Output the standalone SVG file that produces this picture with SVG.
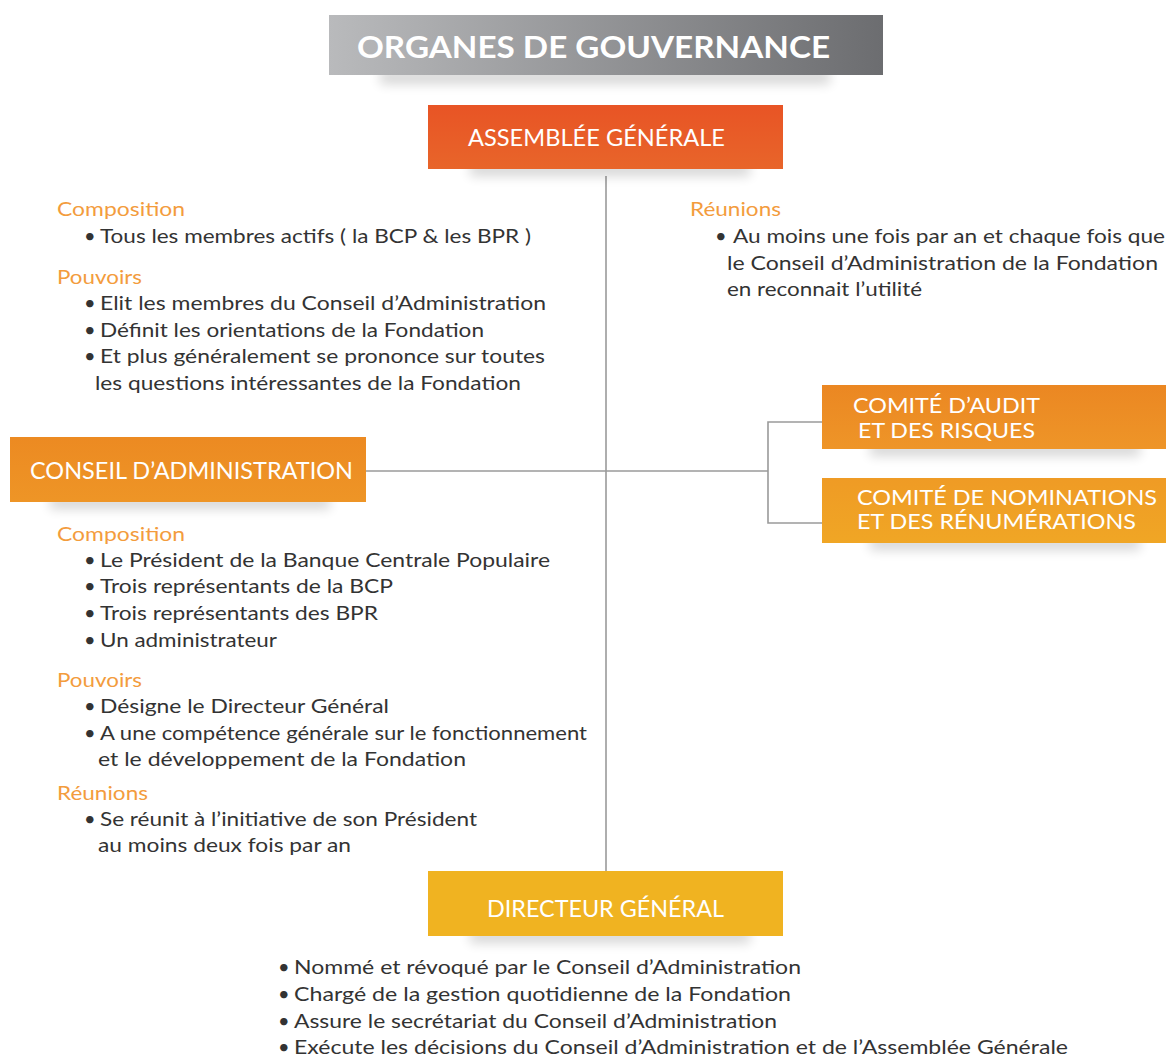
<svg xmlns="http://www.w3.org/2000/svg" width="1166" height="1057" viewBox="0 0 1166 1057">
<defs>
<linearGradient id="gTitle" x1="0" y1="0" x2="1" y2="0">
<stop offset="0" stop-color="#b9babc"/>
<stop offset="1" stop-color="#6c6d70"/>
</linearGradient>
<linearGradient id="gAG" x1="0" y1="0" x2="0" y2="1">
<stop offset="0" stop-color="#e85425"/>
<stop offset="1" stop-color="#e8652a"/>
</linearGradient>
<linearGradient id="gCA" x1="0" y1="0" x2="0" y2="1">
<stop offset="0" stop-color="#ec8a22"/>
<stop offset="1" stop-color="#ee9526"/>
</linearGradient>
<linearGradient id="gAudit" x1="0" y1="0" x2="0" y2="1">
<stop offset="0" stop-color="#eb8722"/>
<stop offset="1" stop-color="#ee9528"/>
</linearGradient>
<linearGradient id="gNom" x1="0" y1="0" x2="0" y2="1">
<stop offset="0" stop-color="#ef9b25"/>
<stop offset="1" stop-color="#f0a625"/>
</linearGradient>
<filter id="blur" x="-20%" y="-100%" width="140%" height="300%">
<feGaussianBlur stdDeviation="6"/>
</filter>
</defs>
<style>
.box-t{font-family:Lato,"Noto Sans",sans-serif;fill:#ffffff;font-size:23px;}
.box-t2{font-family:Lato,"Noto Sans",sans-serif;fill:#ffffff;font-size:21px;}
.title-t{font-family:Lato,"Noto Sans",sans-serif;fill:#ffffff;font-size:31px;font-weight:bold;}
.h{font-family:Lato,"Noto Sans",sans-serif;fill:#f39c3d;font-size:20px;}
.b{font-family:Lato,"Noto Sans",sans-serif;fill:#333333;font-size:20px;}
.sh{fill:#000000;opacity:0.16;filter:url(#blur);}
.ln{stroke:#9a9a9a;stroke-width:1.6;fill:none;}
</style>

<g id="connectors">
<line class="ln" x1="606" y1="176" x2="606" y2="871"/>
<line class="ln" x1="366" y1="471" x2="768" y2="471"/>
<polyline class="ln" points="822,422 768,422 768,523 822,523"/>
</g>

<g id="title">
<rect class="sh" x="380" y="70" width="450" height="14"/>
<rect x="329" y="15" width="554" height="60" fill="url(#gTitle)"/>
<text class="title-t" x="357" y="58" textLength="473" lengthAdjust="spacingAndGlyphs">ORGANES DE GOUVERNANCE</text>
</g>

<g id="assemblee">
<rect class="sh" x="470" y="162" width="280" height="14"/>
<rect x="428" y="105" width="355" height="64" fill="url(#gAG)"/>
<text class="box-t" x="468" y="146" textLength="257" lengthAdjust="spacingAndGlyphs">ASSEMBLÉE GÉNÉRALE</text>
</g>

<g id="assemblee-texte">
<text class="h" x="57" y="216" textLength="128" lengthAdjust="spacingAndGlyphs">Composition</text>
<text class="b" x="84" y="243">•</text>
<text class="b" x="100" y="243" textLength="431" lengthAdjust="spacingAndGlyphs">Tous les membres actifs ( la BCP &amp; les BPR )</text>
<text class="h" x="57" y="284" textLength="85" lengthAdjust="spacingAndGlyphs">Pouvoirs</text>
<text class="b" x="84" y="310">•</text>
<text class="b" x="100" y="310" textLength="446" lengthAdjust="spacingAndGlyphs">Elit les membres du Conseil d’Administration</text>
<text class="b" x="84" y="337">•</text>
<text class="b" x="100" y="337" textLength="384" lengthAdjust="spacingAndGlyphs">Définit les orientations de la Fondation</text>
<text class="b" x="84" y="363">•</text>
<text class="b" x="100" y="363" textLength="445" lengthAdjust="spacingAndGlyphs">Et plus généralement se prononce sur toutes</text>
<text class="b" x="95" y="390" textLength="426" lengthAdjust="spacingAndGlyphs">les questions intéressantes de la Fondation</text>
<text class="h" x="690" y="216" textLength="91" lengthAdjust="spacingAndGlyphs">Réunions</text>
<text class="b" x="715" y="243">•</text>
<text class="b" x="733" y="243" textLength="432" lengthAdjust="spacingAndGlyphs">Au moins une fois par an et chaque fois que</text>
<text class="b" x="727" y="270" textLength="431" lengthAdjust="spacingAndGlyphs">le Conseil d’Administration de la Fondation</text>
<text class="b" x="727" y="296" textLength="195" lengthAdjust="spacingAndGlyphs">en reconnait l’utilité</text>
</g>

<g id="conseil">
<rect class="sh" x="50" y="495" width="280" height="14"/>
<rect x="10" y="437" width="356" height="65" fill="url(#gCA)"/>
<text class="box-t" x="30" y="479" textLength="323" lengthAdjust="spacingAndGlyphs">CONSEIL D’ADMINISTRATION</text>
</g>

<g id="conseil-texte">
<text class="h" x="57" y="541" textLength="128" lengthAdjust="spacingAndGlyphs">Composition</text>
<text class="b" x="84" y="567">•</text>
<text class="b" x="100" y="567" textLength="450" lengthAdjust="spacingAndGlyphs">Le Président de la Banque Centrale Populaire</text>
<text class="b" x="84" y="593">•</text>
<text class="b" x="100" y="593" textLength="293" lengthAdjust="spacingAndGlyphs">Trois représentants de la BCP</text>
<text class="b" x="84" y="620">•</text>
<text class="b" x="100" y="620" textLength="278" lengthAdjust="spacingAndGlyphs">Trois représentants des BPR</text>
<text class="b" x="84" y="647">•</text>
<text class="b" x="100" y="647" textLength="177" lengthAdjust="spacingAndGlyphs">Un administrateur</text>
<text class="h" x="57" y="687" textLength="85" lengthAdjust="spacingAndGlyphs">Pouvoirs</text>
<text class="b" x="84" y="713">•</text>
<text class="b" x="100" y="713" textLength="289" lengthAdjust="spacingAndGlyphs">Désigne le Directeur Général</text>
<text class="b" x="84" y="740">•</text>
<text class="b" x="100" y="740" textLength="487" lengthAdjust="spacingAndGlyphs">A une compétence générale sur le fonctionnement</text>
<text class="b" x="98" y="766" textLength="368" lengthAdjust="spacingAndGlyphs">et le développement de la Fondation</text>
<text class="h" x="57" y="800" textLength="91" lengthAdjust="spacingAndGlyphs">Réunions</text>
<text class="b" x="84" y="826">•</text>
<text class="b" x="100" y="826" textLength="377" lengthAdjust="spacingAndGlyphs">Se réunit à l’initiative de son Président</text>
<text class="b" x="98" y="852" textLength="253" lengthAdjust="spacingAndGlyphs">au moins deux fois par an</text>
</g>

<g id="comite-audit">
<rect class="sh" x="870" y="442" width="270" height="14"/>
<rect x="822" y="385" width="344" height="64" fill="url(#gAudit)"/>
<text class="box-t2" x="853" y="413" textLength="187" lengthAdjust="spacingAndGlyphs">COMITÉ D’AUDIT</text>
<text class="box-t2" x="858" y="438" textLength="177" lengthAdjust="spacingAndGlyphs">ET DES RISQUES</text>
</g>

<g id="comite-nominations">
<rect class="sh" x="870" y="536" width="270" height="14"/>
<rect x="822" y="478" width="344" height="65" fill="url(#gNom)"/>
<text class="box-t2" x="857" y="505" textLength="300" lengthAdjust="spacingAndGlyphs">COMITÉ DE NOMINATIONS</text>
<text class="box-t2" x="857" y="529" textLength="279" lengthAdjust="spacingAndGlyphs">ET DES RÉNUMÉRATIONS</text>
</g>

<g id="directeur">
<rect class="sh" x="470" y="929" width="280" height="14"/>
<rect x="428" y="871" width="355" height="65" fill="#f0b321"/>
<text class="box-t" x="487" y="917" textLength="237" lengthAdjust="spacingAndGlyphs">DIRECTEUR GÉNÉRAL</text>
</g>

<g id="directeur-texte">
<text class="b" x="278" y="974">•</text>
<text class="b" x="294" y="974" textLength="507" lengthAdjust="spacingAndGlyphs">Nommé et révoqué par le Conseil d’Administration</text>
<text class="b" x="278" y="1001">•</text>
<text class="b" x="294" y="1001" textLength="497" lengthAdjust="spacingAndGlyphs">Chargé de la gestion quotidienne de la Fondation</text>
<text class="b" x="278" y="1028">•</text>
<text class="b" x="294" y="1028" textLength="483" lengthAdjust="spacingAndGlyphs">Assure le secrétariat du Conseil d’Administration</text>
<text class="b" x="278" y="1054">•</text>
<text class="b" x="294" y="1054" textLength="774" lengthAdjust="spacingAndGlyphs">Exécute les décisions du Conseil d’Administration et de l’Assemblée Générale</text>
</g>
</svg>
